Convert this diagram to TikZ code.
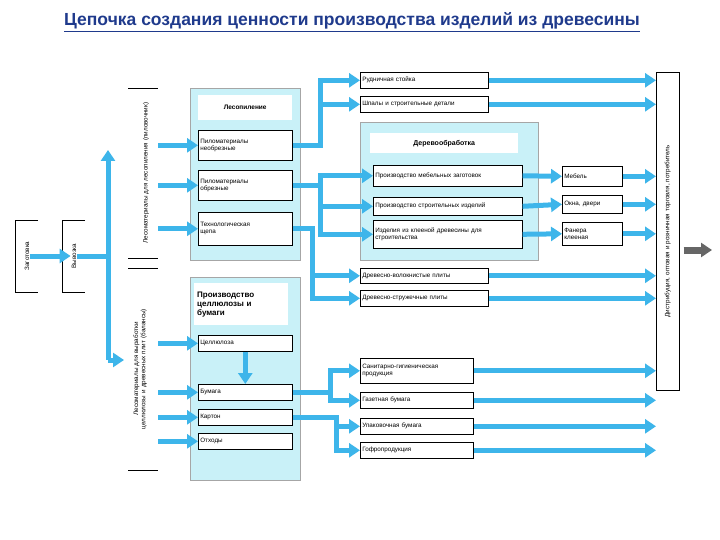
\documentclass[tikz,border=0pt]{standalone}
\usepackage{fontspec}
\setmainfont{Liberation Sans}
\usetikzlibrary{arrows.meta,positioning}
\definecolor{flow}{HTML}{3DB5EA}
\definecolor{pale}{HTML}{C9F1F8}
\definecolor{headblue}{HTML}{1F3A8C}
\begin{document}
\begin{tikzpicture}[x=1pt,y=-1pt,
                    >={Triangle[width=14pt,length=11pt]},
                    font=\fontsize{6.3}{7.3}\selectfont]
  \tikzset{
    box/.style={draw=black, fill=white, anchor=north west, inner sep=2pt,
                align=left, line width=0.6pt},
    panel/.style={draw=gray!70, fill=pale, anchor=north west, inner sep=0pt},
    head/.style={fill=white, anchor=north west, inner sep=3pt, align=left},
    flow/.style={draw=flow, line width=5pt, ->},
    pipe/.style={draw=flow, line width=5pt},
    side/.style={rotate=90, align=center, inner sep=1pt}
  }
  \useasboundingbox (0,0) rectangle (720,540);

  \node[font=\bfseries\fontsize{17.5}{19}\selectfont, text=headblue] (title) at (352,22)
       {\underline{Цепочка создания ценности производства изделий из древесины}};

  % left chain
  \node[side] (cut) at (27,256) {Заготовка};
  \draw (38,220) -- (15,220) -- (15,292) -- (38,292);
  \node[side] (haul) at (74,256) {Вывозка};
  \draw (85,220) -- (62,220) -- (62,292) -- (85,292);
  \node[side, text width=165pt] (saw) at (146,173)
       {Лесоматериалы для лесопиления (пиловочник)};
  \draw (128,88) -- (158,88) (128,258) -- (158,258);
  \node[side, text width=195pt] (pulp) at (140,369)
       {Лесоматериалы для выработки целлюлозы и древесных плит (балансы)};
  \draw (128,268) -- (158,268) (128,470) -- (158,470);

  % Лесопиление
  \node[panel, minimum width=110pt, minimum height=172pt] (mill) at (190,88) {};
  \node[head, minimum width=94pt, minimum height=25pt, align=center, text width=88pt, font=\bfseries\fontsize{6.5}{7.5}\selectfont] (millh) at (198,95) {Лесопиление};
  \node[box, text width=90pt, minimum height=30pt] (raw) at (198,130) {Пиломатериалы\\необрезные};
  \node[box, text width=90pt, minimum height=30pt] (edg) at (198,170) {Пиломатериалы\\обрезные};
  \node[box, text width=90pt, minimum height=33pt] (chip) at (198,212) {Технологическая\\щепа};

  % Целлюлоза и бумага
  \node[panel, minimum width=110pt, minimum height=203pt] (paper) at (190,277) {};
  \node[head, text width=88pt, minimum height=42pt, font=\bfseries\fontsize{8}{9}\selectfont] (paperh) at (194,283)
       {Производство\\целлюлозы и\\бумаги};
  \node[box, text width=90pt, minimum height=16pt] (cell) at (198,335) {Целлюлоза};
  \node[box, text width=90pt, minimum height=16pt] (pap) at (198,384) {Бумага};
  \node[box, text width=90pt, minimum height=16pt] (card) at (198,409) {Картон};
  \node[box, text width=90pt, minimum height=16pt] (waste) at (198,433) {Отходы};

  % Деревообработка
  \node[panel, minimum width=178pt, minimum height=138pt] (wood) at (360,122) {};
  \node[head, text width=142pt, minimum height=20pt, align=center, font=\bfseries\fontsize{7}{8}\selectfont] (woodh) at (370,133) {Деревообработка};
  \node[box, text width=145pt, minimum height=21pt] (furn) at (373,165) {Производство мебельных заготовок};
  \node[box, text width=145pt, minimum height=18pt] (bld) at (373,197) {Производство строительных изделий};
  \node[box, text width=145pt, minimum height=28pt] (glu) at (373,220) {Изделия из клееной древесины для\\строительства};

  \node[box, text width=56pt, minimum height=20pt] (mebel) at (562,166) {Мебель};
  \node[box, text width=56pt, minimum height=18pt] (okna) at (562,195) {Окна, двери};
  \node[box, text width=56pt, minimum height=23pt] (fan) at (562,222) {Фанера\\клееная};

  % products
  \node[box, text width=124pt, minimum height=16pt] (mine) at (360,72) {Рудничная стойка};
  \node[box, text width=124pt, minimum height=16pt] (sleep) at (360,96) {Шпалы и строительные детали};
  \node[box, text width=124pt, minimum height=15pt] (dvp) at (360,268) {Древесно-волокнистые плиты};
  \node[box, text width=124pt, minimum height=16pt] (dsp) at (360,290) {Древесно-стружечные плиты};
  \node[box, text width=109pt, minimum height=25pt] (san) at (360,358) {Санитарно-гигиеническая\\продукция};
  \node[box, text width=109pt, minimum height=16pt] (news) at (360,392) {Газетная бумага};
  \node[box, text width=109pt, minimum height=16pt] (pack) at (360,418) {Упаковочная бумага};
  \node[box, text width=109pt, minimum height=16pt] (corr) at (360,442) {Гофропродукция};

  % market
  \node[draw=black, line width=0.6pt, anchor=north west, minimum width=23pt, minimum height=318pt, inner sep=0pt] (mkt) at (656,72) {};
  \node[side, text width=300pt] at (mkt.center) {Дистрибуция, оптовая и розничная торговля, потребитель};
  \coordinate (out) at (712,250);
  \draw[draw=gray!80!black, line width=7pt, ->] (mkt.east |- out) ++(4,0) -- (out);

  % raw wood flow
  \draw[flow] (cut.south) -- (haul.north);
  \draw[pipe] (haul.south) -- (108,256);
  \draw[flow] (108,256) -- (108,150);
  \draw[pipe] (108,256) -- (108,360);
  \draw[flow] (108,360) -- (124,360);
  \foreach \n in {raw,edg,chip} \draw[flow] (158,0 |- \n) -- (\n.west);
  \foreach \n in {cell,pap,card,waste} \draw[flow] (158,0 |- \n) -- (\n.west);
  \draw[flow] (cell.south) -- (cell.south |- pap.north);

  % from sawmill
  \draw[pipe] (raw.east) -- (320,0 |- raw) -- (320,80);
  \foreach \n in {mine,sleep} \draw[flow] (318,0 |- \n) -- (\n.west);
  \draw[pipe] (edg.east) -- (320,0 |- edg);
  \draw[pipe] (320,175) -- (320,236);
  \foreach \n in {furn,bld,glu} \draw[flow] (318,0 |- \n) -- (\n.west);
  \draw[pipe] (chip.east) -- (312,0 |- chip) -- (312,298);
  \foreach \n in {dvp,dsp} \draw[flow] (310,0 |- \n) -- (\n.west);

  % from woodworking
  \draw[flow] (furn.east) -- (mebel.west);
  \draw[flow] (bld.east) -- (okna.west);
  \draw[flow] (glu.east) -- (fan.west);

  % from paper
  \draw[pipe] (pap.east) -- (330,0 |- pap) -- (330,370);
  \draw[pipe] (330,392) -- (330,400);
  \foreach \n in {san,news} \draw[flow] (328,0 |- \n) -- (\n.west);
  \draw[pipe] (card.east) -- (336,0 |- card) -- (336,450);
  \foreach \n in {pack,corr} \draw[flow] (334,0 |- \n) -- (\n.west);

  % to market
  \foreach \n in {mine,sleep,dvp,dsp,san,news,pack,corr,mebel,okna,fan}
    \draw[flow] (\n.east) -- (mkt.west |- \n);
\end{tikzpicture}
\end{document}
